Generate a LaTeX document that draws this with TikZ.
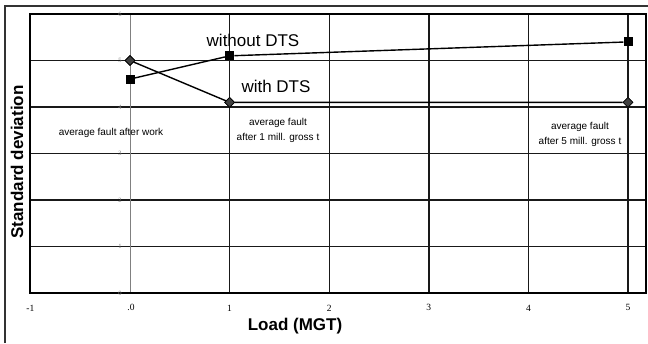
\documentclass[tikz,border=0pt]{standalone}
\usepackage{fontspec}
\setmainfont{Liberation Sans}
\newfontfamily\tickfont{Liberation Serif}
\usetikzlibrary{shapes.geometric}
\begin{document}
\begin{tikzpicture}[
  x=1pt, y=1pt,
  gridline/.style={line width=1.4pt, black!90},
  plotframe/.style={line width=2pt},
  serie/.style={line width=1.4pt},
  sq/.style={rectangle, fill=black, minimum size=9pt, inner sep=0pt},
  dia/.style={diamond, draw=black, fill=gray!50!black, minimum size=10pt, inner sep=0pt, line width=0.6pt},
  ytick/.style={font=\tickfont\fontsize{6.5}{6.5}\selectfont, text=gray},
  xtick/.style={font=\tickfont\fontsize{9.5}{9.5}\selectfont},
  note/.style={font=\fontsize{10}{15}\selectfont, align=center, inner sep=0pt},
  legendtext/.style={font=\fontsize{17}{17}\selectfont, inner sep=0pt},
  axtitle/.style={font=\bfseries\fontsize{17}{17}\selectfont, inner sep=0pt},
]
\useasboundingbox (0,0) rectangle (648,-343);

% outer frame (top and left edges)
\draw[line width=1.3pt, black!80] (5,-343) -- (5,-6) -- (648,-6);

% chart in data units
\begin{scope}[shift={(130,-293)}, x=99.6pt, y=46.5pt]
  \foreach \k in {1,...,5} {
    \draw[gridline] (-1,\k) -- (5.18,\k);
    \draw[gridline] (\k,0) -- (\k,6);
  }
  \draw[gray, line width=0.5pt] (0,0) -- (0,6);
  \draw[plotframe] (-1,0) rectangle (5.18,6);

  % tick labels
  \foreach \k in {0,...,6}
    \node[ytick] (yt\k) at (-0.1,\k) {\k};
  \node[xtick] (xtm1) at (-1,-0.32) {-1};
  \node[xtick] (xt0) at (0.01,-0.32) {.0};
  \foreach \k in {1,...,5}
    \node[xtick] (xt\k) at (\k,-0.32) {\k};

  % without DTS
  \node[sq] (a0) at (0,4.6) {};
  \node[sq] (a1) at (1,5.1) {};
  \node[sq] (a5) at (5,5.4) {};
  \draw[serie] (a0) -- (a1) -- (a5);

  % with DTS
  \node[dia] (b0) at (0,5) {};
  \node[dia] (b1) at (1,4.1) {};
  \node[dia] (b5) at (5,4.1) {};
  \draw[serie] (b0) -- (b1) -- (b5);
  \node[dia] at (0,5) {};
  \node[dia] at (1,4.1) {};
  \node[dia] at (5,4.1) {};
\end{scope}

% series labels
\node[legendtext] (lwo) at (253,-40) {without DTS};
\node[legendtext] (lw) at (276,-86) {with DTS};

% notes
\node[note] (n0) at (111,-133) {average fault after work};
\node[note] (n1) at (278,-130) {average fault\\after 1 mill. gross t};
\node[note] (n5) at (580,-134) {average fault\\after 5 mill. gross t};

% axis titles
\node[axtitle, rotate=90] (ylab) at (17,-162) {Standard deviation};
\node[axtitle] (xlab) at (295,-326) {Load (MGT)};
\end{tikzpicture}
\end{document}
